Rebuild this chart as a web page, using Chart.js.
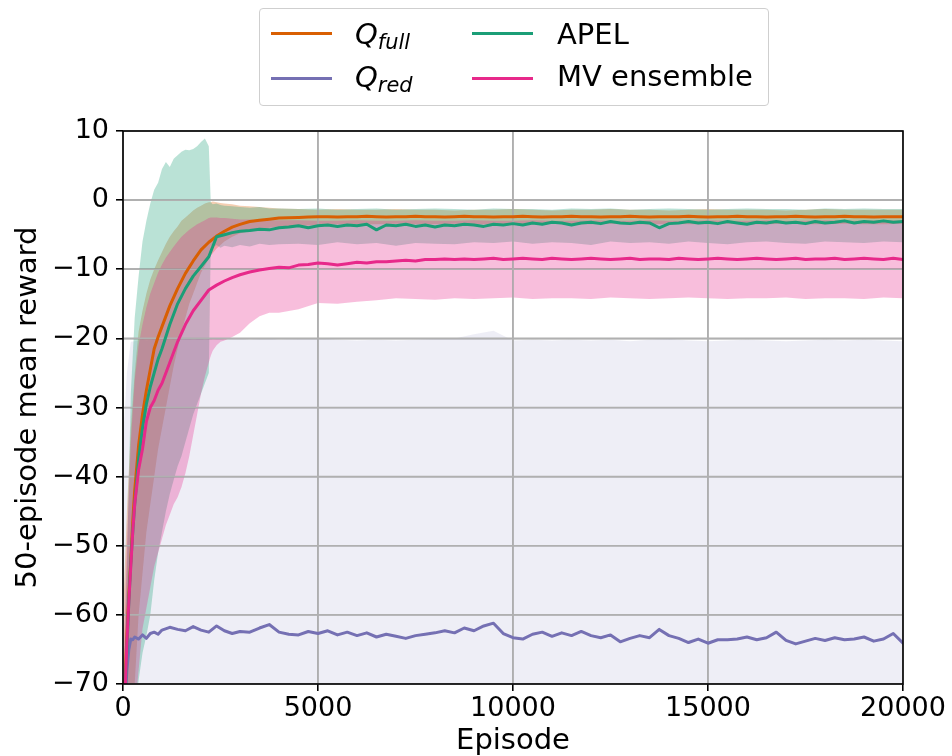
<!DOCTYPE html>
<html><head><meta charset="utf-8">
<script src="https://cdn.jsdelivr.net/npm/chart.js@4.4.1/dist/chart.umd.min.js"></script>
<style>
html,body{margin:0;padding:0;background:#fff;}
#wrap{position:relative;width:952px;height:756px;overflow:hidden;}
#c{position:absolute;left:0;top:0;}
#legendBox{position:absolute;left:259px;top:8px;width:508px;height:96px;border:1px solid #cfcfcf;border-radius:4px;background:rgba(255,255,255,0.8);}
.item{position:absolute;height:29px;line-height:29px;white-space:nowrap;font-family:'DejaVu Sans';font-size:29px;color:#000;}
.handle{position:absolute;height:3px;width:61px;}
.sub{font-size:0.72em;position:relative;top:0.22em;}
</style></head>
<body>
<div id="wrap">
<canvas id="c" width="952" height="756"></canvas>
<div id="legendBox"></div>
<div class="handle" style="left:271px;top:32px;background:#d95f02"></div>
<div class="item" style="left:355px;top:20px"><i>Q<span class="sub">full</span></i></div>
<div class="handle" style="left:271px;top:77px;background:#7570b3"></div>
<div class="item" style="left:355px;top:63px"><i>Q<span class="sub">red</span></i></div>
<div class="handle" style="left:472px;top:32px;background:#1b9e77"></div>
<div class="item" style="left:557px;top:20px">APEL</div>
<div class="handle" style="left:472px;top:77px;background:#e7298a"></div>
<div class="item" style="left:557px;top:62px">MV ensemble</div>
</div>
<script>
// ---------- data ----------
const lineEpisodes = [0,50,100,150,200,250,300,400,500,600,700,800,900,1000,1200,1400,1600,1800,2000,2200,2400,2600,2800,3000,
3250,3500,3750,4000,4250,4500,4750,5000,5250,5500,5750,6000,6250,6500,6750,7000,7250,7500,7750,8000,8250,8500,8750,9000,9250,9500,9750,10000,
10250,10500,10750,11000,11250,11500,11750,12000,12250,12500,12750,13000,13250,13500,13750,14000,14250,14500,14750,15000,
15250,15500,15750,16000,16250,16500,16750,17000,17250,17500,17750,18000,18250,18500,18750,19000,19250,19500,19750,20000];

const qFullMean = [-78,-70,-63,-57,-52,-46.5,-42,-35.5,-31,-27.5,-24.5,-21.5,-19.8,-18.3,-15.3,-12.8,-10.6,-8.8,-7.2,-6.1,-5.2,-4.5,-3.9,-3.5,
-3.1,-2.9,-2.75,-2.6,-2.55,-2.5,-2.45,-2.4,
-2.4,-2.45,-2.4,-2.4,-2.35,-2.4,-2.45,-2.4,-2.4,-2.35,
-2.4,-2.4,-2.45,-2.4,-2.35,-2.4,-2.4,-2.45,-2.4,-2.4,
-2.35,-2.4,-2.45,-2.4,-2.4,-2.35,-2.4,-2.4,-2.45,-2.4,
-2.4,-2.35,-2.4,-2.45,-2.4,-2.4,-2.4,-2.35,-2.4,-2.45,
-2.4,-2.4,-2.35,-2.4,-2.4,-2.45,-2.4,-2.4,-2.35,-2.4,
-2.45,-2.4,-2.4,-2.35,-2.4,-2.4,-2.45,-2.4,-2.4,-2.4];

const qRedMean = [-78,-73,-68,-65,-63.5,-63.6,-63.2,-63.5,-62.9,-63.4,-62.7,-62.5,-62.8,-62.2,-61.8,-62.1,-62.3,-61.7,-62.2,-62.5,-61.6,-62.3,-62.7,-62.4,
-62.5,-61.9,-61.4,-62.5, -62.8,-62.9,-62.4,-62.7, -62.3,-62.9,-62.5,-63.0, -62.6,-63.2,-62.8,-63.1, -63.4,-63.0,-62.8,-62.6,
-62.3,-62.6,-61.9,-62.3, -61.6,-61.2,-62.7,-63.3, -63.5,-62.8,-62.5,-63.1, -62.6,-63.0,-62.4,-63.0, -63.3,-62.9,-63.9,-63.4,
-63.0,-63.3,-62.1,-63.0, -63.4,-64.0,-63.5,-64.1, -63.6,-63.6,-63.5,-63.2, -63.6,-63.3,-62.5,-63.7, -64.2,-63.8,-63.4,-63.7,
-63.3,-63.6,-63.5,-63.2, -63.8,-63.5,-62.7,-64.1];

const apelMean = [-78,-72,-65,-58,-52.5,-48,-44,-37.5,-33,-29.5,-27,-25,-23,-21.5,-18,-15,-12.8,-11,-9.6,-8.2,-5.3,-5,-4.7,-4.5,
-4.4,-4.2,-4.3,-4.0, -3.9,-3.7,-4.0,-3.7, -3.6,-3.8,-3.6,-3.7, -3.5,-4.3,-3.6,-3.7, -3.5,-3.8,-3.6,-3.9, -3.6,-3.7,-3.5,-3.6,
-3.8,-3.5,-3.6,-3.4, -3.6,-3.3,-3.5,-3.2, -3.3,-3.6,-3.3,-3.2, -3.4,-3.1,-3.3,-3.4, -3.2,-3.3,-4.0,-3.4, -3.3,-3.1,-3.3,-3.2,
-3.4,-3.1,-3.3,-3.5, -3.2,-3.3,-3.1,-3.3, -3.2,-3.4,-3.1,-3.3, -3.2,-3.0,-3.3,-3.1, -3.2,-3.0,-3.2,-3.1];

const mvMean = [-80,-72,-64,-58,-53,-48,-44,-39,-36,-32,-30,-29,-27.5,-26.5,-23.5,-20.5,-18,-16,-14.5,-13,-12.3,-11.7,-11.2,-10.8,
-10.4,-10.1,-9.9,-9.7, -9.8,-9.4,-9.3,-9.1, -9.2,-9.4,-9.2,-9.0, -9.1,-8.9,-8.9,-8.8, -8.7,-8.8,-8.6,-8.6, -8.5,-8.6,-8.5,-8.6,
-8.5,-8.4,-8.6,-8.5, -8.4,-8.5,-8.6,-8.4, -8.5,-8.6,-8.5,-8.4, -8.5,-8.6,-8.5,-8.4, -8.6,-8.5,-8.5,-8.6, -8.4,-8.5,-8.6,-8.5,
-8.4,-8.5,-8.6,-8.5, -8.4,-8.5,-8.6,-8.5, -8.4,-8.6,-8.5,-8.5, -8.4,-8.6,-8.5,-8.4, -8.5,-8.6,-8.4,-8.6];

const bandEpisodes = [0,100,200,300,400,500,600,700,800,900,1000,1100,1200,1300,1400,1500,1600,1700,1800,1900,2000,2100,2200,
2250,2300,2400,2500,2600,2800,3000,3250,3500,3750,4000,
4500,5000,5500,6000,6500,7000,7500,8000,8500,9000,9500,10000,10500,11000,11500,12000,12500,13000,13500,14000,14500,15000,
15500,16000,16500,17000,17500,18000,18500,19000,19500,20000];

const qFullUpper = [-60,-45,-33,-25,-19,-16,-13.5,-11.5,-10,-8.7,-7.5,-6.3,-5.3,-4.5,-3.8,-3.0,-2.5,-2.0,-1.5,-1.1,-0.8,-0.5,-0.3,
-0.3,-0.2,-0.3,-0.4,-0.5,-0.6,-0.8,-0.9,-1.0,-1.1,-1.2,
-1.3,-1.4,-1.3,-1.4,-1.4,-1.3,-1.4,-1.4,-1.5,-1.4,-1.4,-1.3,-1.4,-1.5,-1.4,-1.4,-1.3,-1.4,-1.4,-1.5,-1.4,-1.3,
-1.4,-1.4,-1.4,-1.5,-1.4,-1.3,-1.4,-1.4,-1.4,-1.4];
const qFullLower = [-95,-85,-78,-70,-60,-54,-48,-44,-40,-36,-33,-30,-27,-24,-21.5,-19,-17,-15,-13.5,-12,-10.5,-9.5,-8.5,
-8,-7.7,-7,-6.5,-6,-5.3,-4.8,-4.5,-4.2,-4.0,-3.8,
-3.7,-3.6,-3.5,-3.5,-3.5,-3.4,-3.5,-3.5,-3.4,-3.5,-3.5,-3.4,-3.5,-3.4,-3.5,-3.5,-3.4,-3.5,-3.5,-3.4,-3.5,-3.5,
-3.4,-3.5,-3.5,-3.4,-3.5,-3.5,-3.4,-3.5,-3.5,-3.4];

const qRedUpper = [-35,-25,-20.5,-20.4,-20.3,-20.1,-20.3,-20.2,-20.0,-20.2,-20.1,-20.0,-20.2,-20.1,-20.0,-20.2,-20.1,-20.0,-20.2,-20.1,-20.0,-20.2,-20.1,
-20.0,-20.2,-20.1,-20.0,-20.2,-20.1,-20.0,-20.2,-20.1,-20.0,-20.2,
-20.1,-20.0,-20.2,-20.3,-20.2,-20.3,-20.2,-20.1,-20.0,-19.4,-18.9,-20.3,-20.2,-20.3,-20.2,-20.3,-20.2,-20.4,-20.2,-20.1,-20.3,-20.4,
-20.3,-20.2,-20.3,-20.4,-20.3,-20.2,-20.3,-20.2,-20.3,-20.4];

const apelUpper = [-75,-53,-28,-17,-11,-6,-3,-0.5,1.5,2.5,4.5,5.5,4.8,6,6.5,7,7.3,7.2,7.4,7.8,8.4,8.9,7.8,
-0.3,-0.6,-0.5,-0.7,-0.8,-0.9,-1.0,-1.1,-1.0,-1.2,-1.2,
-1.3,-1.2,-1.4,-1.3,-1.2,-1.4,-1.3,-1.2,-1.3,-1.4,-1.2,-1.3,-1.3,-1.4,-1.2,-1.3,-1.2,-1.4,-1.3,-1.2,-1.3,-1.4,
-1.3,-1.2,-1.3,-1.3,-1.4,-1.2,-1.3,-1.2,-1.3,-1.3];
const apelLower = [-90,-85,-80,-75,-69.5,-65.5,-63,-60,-55,-51,-48,-45,-42.5,-40.5,-38.5,-37,-35,-33,-31,-29.5,-28,-26.5,-25,
-6.5,-6.8,-6.5,-6.9,-6.6,-6.8,-6.5,-6.7,-6.3,-6.5,-6.4,
-6.3,-6.5,-6.1,-6.4,-6.2,-6.6,-6.2,-6.3,-6.4,-6.1,-6.2,-6.0,-6.3,-6.1,-6.2,-6.5,-6.0,-6.2,-6.1,-6.3,-6.0,-6.2,
-6.4,-6.1,-6.0,-6.2,-6.3,-6.0,-6.1,-6.2,-6.0,-6.1];

const mvUpper = [-70,-50,-35,-26,-21,-18,-15.5,-13.5,-12,-10.5,-9.3,-8.3,-7.5,-6.7,-6,-5.3,-4.8,-4.3,-3.9,-3.5,-3.2,-2.9,-2.6,
-2.5,-2.5,-2.5,-2.6,-2.6,-2.7,-2.8,-2.8,-2.9,-2.9,-2.9,
-2.9,-3.0,-3.0,-2.9,-3.0,-3.0,-2.9,-3.0,-3.0,-2.9,-3.0,-3.0,-2.9,-3.0,-3.0,-2.9,-3.0,-3.0,-2.9,-3.0,-3.0,-2.9,
-3.0,-3.0,-2.9,-3.0,-3.0,-2.9,-3.0,-3.0,-2.9,-3.0];
const mvLower = [-95,-88,-80,-74,-68,-62,-59,-56,-53,-51,-49,-47,-45.5,-44,-43,-41.5,-39.5,-37,-34,-31,-28,-25.5,-23.5,
-22.5,-21.8,-21,-20.5,-20.3,-19.8,-19.2,-17.8,-16.8,-16.3,-16.3,
-15.8,-14.9,-15.0,-14.7,-14.5,-14.2,-14.3,-14.4,-14.2,-14.3,-14.2,-14.1,-14.3,-14.2,-14.2,-14.3,-14.1,-14.2,-14.3,-14.2,-14.1,-14.2,
-14.3,-14.2,-14.2,-14.1,-14.3,-14.2,-14.2,-14.3,-14.1,-14.2];

const xTicks = [0, 5000, 10000, 15000, 20000];
const yTicks = [10, 0, -10, -20, -30, -40, -50, -60, -70];

// ---------- styling ----------
const FONT = "'DejaVu Sans', sans-serif";
const GRID = '#b0b0b0';
const C = {full:'#d95f02', red:'#7570b3', apel:'#1b9e77', mv:'#e7298a'};
const F = {full:'rgba(217,95,2,0.3)', red:'rgba(117,112,179,0.12)', apel:'rgba(27,158,119,0.3)', mv:'rgba(231,41,138,0.3)'};

const pts = (xs, ys) => xs.map((x, i) => ({x, y: ys[i]}));
const lineDs = (data, color) => ({data: pts(lineEpisodes, data), borderColor: color, borderWidth: 3, fill: false,
  pointRadius: 0, borderJoinStyle: 'round', borderCapStyle: 'round'});
const edgeDs = (data, fill, bg) => ({data: pts(bandEpisodes, data), borderWidth: 0, borderColor: 'rgba(0,0,0,0)',
  pointRadius: 0, fill: fill, backgroundColor: bg || 'rgba(0,0,0,0)'});

const overlay = {
  id: 'overlay',
  beforeDatasetsDraw(chart) {
    const {ctx, chartArea: a, scales: {x, y}} = chart;
    ctx.save();
    ctx.beginPath(); ctx.rect(a.left, a.top, a.right - a.left, a.bottom - a.top); ctx.clip();
    ctx.strokeStyle = GRID; ctx.lineWidth = 1.6;
    xTicks.forEach(v => { const p = x.getPixelForValue(v); ctx.beginPath(); ctx.moveTo(p, a.top); ctx.lineTo(p, a.bottom); ctx.stroke(); });
    yTicks.forEach(v => { const p = y.getPixelForValue(v); ctx.beginPath(); ctx.moveTo(a.left, p); ctx.lineTo(a.right, p); ctx.stroke(); });
    ctx.restore();
  },
  afterDatasetsDraw(chart) {
    const {ctx, chartArea: a} = chart;
    ctx.save();
    ctx.strokeStyle = '#000'; ctx.lineWidth = 1.6;
    ctx.strokeRect(a.left, a.top, a.right - a.left, a.bottom - a.top);
    ctx.restore();
  }
};

new Chart(document.getElementById('c'), {
  type: 'line',
  data: {
    datasets: [
      lineDs(mvMean, C.mv),
      lineDs(apelMean, C.apel),
      lineDs(qRedMean, C.red),
      lineDs(qFullMean, C.full),
      edgeDs(mvUpper, false),
      edgeDs(mvLower, '-1', F.mv),
      edgeDs(apelUpper, false),
      edgeDs(apelLower, '-1', F.apel),
      edgeDs(qRedUpper, 'start', F.red),
      edgeDs(qFullUpper, false),
      edgeDs(qFullLower, '-1', F.full)
    ]
  },
  options: {
    responsive: false,
    animation: false,
    layout: {padding: {top: 131, right: 49, left: 0, bottom: 0}},
    plugins: {legend: {display: false}, tooltip: {enabled: false}, filler: {drawTime: 'beforeDatasetsDraw', propagate: false}},
    scales: {
      x: {
        type: 'linear', min: 0, max: 20000,
        afterBuildTicks: s => { s.ticks = xTicks.map(v => ({value: v})); },
        ticks: {callback: v => String(v), font: {family: FONT, size: 27}, color: '#000', padding: 2, maxRotation: 0, autoSkip: false},
        grid: {color: GRID, lineWidth: 1.6, tickColor: '#000', tickLength: 7, tickWidth: 1.6},
        border: {display: false},
        title: {display: true, text: 'Episode', font: {family: FONT, size: 29, lineHeight: 1}, color: '#000', padding: {top: 0, bottom: 0}},
        afterFit: s => { s.height = 72; }
      },
      y: {
        type: 'linear', min: -70, max: 10,
        afterBuildTicks: s => { s.ticks = yTicks.map(v => ({value: v})); },
        ticks: {callback: v => v < 0 ? '\u2212' + Math.abs(v) : String(v), font: {family: FONT, size: 27}, color: '#000', padding: 7, autoSkip: false},
        grid: {color: GRID, lineWidth: 1.6, tickColor: '#000', tickLength: 7, tickWidth: 1.6},
        border: {display: false},
        title: {display: true, text: '50-episode mean reward', font: {family: FONT, size: 29, lineHeight: 1}, color: '#000', padding: {top: 14, bottom: 0}},
        afterFit: s => { s.width = 123; }
      }
    }
  },
  plugins: [overlay]
});
</script>
</body></html>
